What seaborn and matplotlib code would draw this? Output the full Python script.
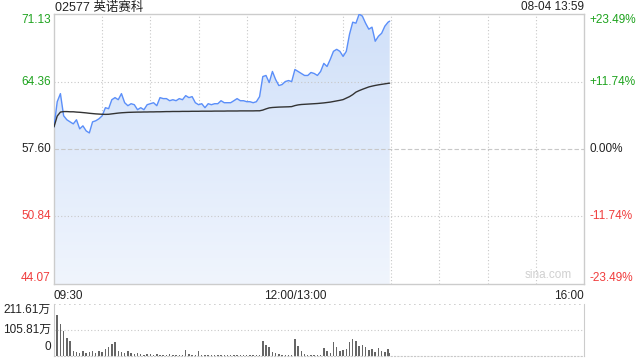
import numpy as np
import pandas as pd
import matplotlib
matplotlib.use("Agg")
import matplotlib.pyplot as plt
from matplotlib.colors import LinearSegmentedColormap
import seaborn as sns

# ---------------- data ----------------
title = "02577 英诺赛科"
stamp = "08-04 13:59"
minutes = [0, 2, 4, 6, 8, 10, 12, 14, 16, 18, 20, 22, 24, 26, 28, 30, 32, 34, 36, 38,
           40, 42, 44, 46, 48, 50, 52, 54, 56, 58, 60, 62, 64, 66, 68, 70, 72, 74, 76, 78,
           80, 82, 84, 86, 88, 90, 92, 94, 96, 98, 100, 102, 104, 106, 108, 110, 112, 114, 116, 118,
           120, 122, 124, 126, 128, 130, 132, 134, 136, 138, 140, 142, 144, 146, 148, 150, 152, 154, 156, 158,
           160, 162, 164, 166, 168, 170, 172, 174, 176, 178, 180, 182, 184, 186, 188, 190, 192, 194, 196, 198,
           200, 202, 204, 206, 208, 209]
price = [59.82, 62.34, 63.15, 60.93, 60.53, 60.32, 60.12, 60.53, 59.62, 59.92, 59.42, 59.21, 60.32, 60.43, 60.63, 60.93, 61.74, 61.64, 62.54, 62.75,
         62.54, 63.15, 62.24, 61.94, 62.14, 62.04, 61.54, 61.74, 61.54, 62.04, 62.14, 62.24, 61.94, 62.75, 62.65, 62.65, 62.44, 62.54, 62.44, 62.65,
         62.54, 62.95, 62.75, 62.85, 62.24, 62.04, 62.14, 61.74, 62.14, 62.04, 62.14, 62.14, 62.44, 62.24, 62.24, 62.24, 62.44, 62.65, 62.44, 62.44,
         62.34, 62.34, 62.24, 62.34, 62.85, 64.86, 64.97, 64.26, 65.37, 64.56, 63.96, 64.06, 64.36, 64.46, 64.36, 65.57, 65.37, 65.17, 64.97, 64.97,
         65.27, 65.17, 64.97, 65.37, 66.18, 65.87, 66.58, 67.39, 67.59, 67.39, 66.88, 67.39, 69.10, 70.31, 70.21, 71.12, 70.92, 70.21, 69.61, 69.81,
         68.40, 68.90, 69.20, 69.91, 70.31, 70.41]
avg_price = [59.82, 60.90, 61.30, 61.35, 61.35, 61.33, 61.33, 61.30, 61.28, 61.25, 61.22, 61.18, 61.15, 61.12, 61.10, 61.08, 61.07, 61.08, 61.12, 61.16,
             61.20, 61.23, 61.25, 61.27, 61.28, 61.29, 61.30, 61.30, 61.31, 61.31, 61.32, 61.32, 61.33, 61.33, 61.34, 61.35, 61.35, 61.36, 61.36, 61.36,
             61.37, 61.37, 61.37, 61.38, 61.38, 61.38, 61.39, 61.39, 61.39, 61.39, 61.40, 61.40, 61.40, 61.40, 61.41, 61.41, 61.41, 61.41, 61.42, 61.42,
             61.42, 61.42, 61.42, 61.43, 61.43, 61.50, 61.62, 61.72, 61.76, 61.78, 61.80, 61.81, 61.82, 61.83, 61.85, 61.95, 62.02, 62.06, 62.08, 62.10,
             62.12, 62.14, 62.16, 62.19, 62.22, 62.26, 62.30, 62.36, 62.42, 62.48, 62.55, 62.70, 62.85, 63.05, 63.30, 63.45, 63.58, 63.70, 63.82, 63.90,
             63.97, 64.03, 64.08, 64.13, 64.18, 64.20]
volume = [210, 165, 130, 100, 72, 62, 22, 18, 14, 20, 12, 16, 20, 14, 22, 18, 30, 38, 48, 55,
          22, 18, 14, 20, 12, 10, 14, 8, 6, 9, 7, 5, 8, 6, 4, 5, 7, 5, 4, 6,
          3, 25, 8, 5, 4, 22, 6, 5, 4, 3, 4, 3, 5, 3, 4, 3, 5, 3, 4, 3,
          5, 4, 6, 4, 5, 62, 45, 35, 15, 12, 8, 6, 5, 4, 6, 70, 40, 22, 10, 6,
          4, 5, 3, 6, 33, 20, 12, 55, 35, 20, 25, 30, 55, 70, 62, 40, 45, 35, 25, 30,
          18, 33, 22, 16, 30, 14]
price_ticks = [71.13, 64.36, 57.60, 50.84, 44.07]
pct_labels = ["+23.49%", "+11.74%", "0.00%", "-11.74%", "-23.49%"]
vol_ticks = [211.61, 105.81, 0]
vol_labels = ["211.61万", "105.81万", "0"]
time_labels = ["09:30", "12:00/13:00", "16:00"]
time_label_pos = [0, 150, 330]

# ---------------- style ----------------
sns.set_style("white")
plt.rcParams['font.family'] = ['Liberation Sans', 'Noto Sans CJK SC', 'DejaVu Sans']

GREEN = "#1ea31e"
RED = "#f03c3c"
GRID = "#c8c8c8"
FRAME = "#cccccc"
LINE = "#5b8ff9"

W, H = 640, 360
fig = plt.figure(figsize=(6.4, 3.6), dpi=100)

def box(l, t, r, b):
    return [l / W, 1 - b / H, (r - l) / W, (b - t) / H]

ax = fig.add_axes(box(54, 14, 584, 284))
axv = fig.add_axes(box(54, 304, 584, 356))

df = pd.DataFrame({"m": minutes, "price": price, "avg": avg_price})

ymin, ymax = price_ticks[-1], price_ticks[0]
ax.set_xlim(0, 330)
ax.set_ylim(ymin, ymax)

# gradient fill under the price curve
poly = ax.fill_between(minutes, price, ymin, color="none", lw=0)
grad = np.linspace(1, 0, 256).reshape(-1, 1)
cmap = LinearSegmentedColormap.from_list("g", ["#f0f5fd", "#d0e0f9"])
im = ax.imshow(grad, cmap=cmap, aspect="auto", extent=[0, 330, ymin, max(price)],
               origin="upper", zorder=1)
im.set_clip_path(poly.get_paths()[0], transform=ax.transData)

sns.lineplot(data=df, x="m", y="price", ax=ax, color=LINE, lw=1.0, zorder=3)
sns.lineplot(data=df, x="m", y="avg", ax=ax, color="#333333", lw=1.0, zorder=4)

# grid
for xv in range(30, 330, 30):
    ax.axvline(xv, color=GRID, lw=0.8, ls=(0, (1, 2)), zorder=0.5)
for yv in price_ticks[1:-1]:
    ls = (0, (4, 2)) if yv == 57.60 else (0, (1, 2))
    ax.axhline(yv, color=GRID, lw=0.8, ls=ls, zorder=2)

ax.set_xticks([]); ax.set_yticks([])
ax.set_xlabel(""); ax.set_ylabel("")
for s in ax.spines.values():
    s.set_color(FRAME); s.set_linewidth(1.0)

# price labels
colors = [GREEN, GREEN, "#222222", RED, RED]
vas = ["top", "center", "center", "center", "bottom"]
for v, lab_p, c, va in zip(price_ticks, pct_labels, colors, vas):
    fy = (v - ymin) / (ymax - ymin)
    ax.text(-0.006, fy, f"{v:.2f}", transform=ax.transAxes, ha="right", va=va,
            color=c, fontsize=8.5)
    ax.text(1.011, fy, lab_p, transform=ax.transAxes, ha="left", va=va,
            color=c, fontsize=8.5)

# time labels
for lab, pos in zip(time_labels, time_label_pos):
    ha = "left" if pos == 0 else ("right" if pos == 330 else "center")
    ax.text(pos, -0.022, lab, transform=ax.get_xaxis_transform(), ha=ha, va="top",
            fontsize=8.5, color="#222222")

# header
fig.text(55 / W, 1 - 7.5 / H, title, ha="left", va="center",
         fontsize=9, color="#222222")
fig.text(584 / W, 1 - 7.5 / H, stamp, ha="right", va="center",
         fontsize=8.5, color="#222222")
ax.text(0.977, 0.012, "sina.com", transform=ax.transAxes, ha="right", va="bottom",
        fontsize=8.5, color="#d0d0d0")

# volume
axv.bar(minutes, volume, width=0.9, color="#666666", lw=0, align="center")
axv.set_xlim(0, 330)
axv.set_ylim(0, vol_ticks[0])
axv.set_xticks([]); axv.set_yticks([])
axv.axhline(vol_ticks[1], color=GRID, lw=0.8, ls=(0, (1, 2)))
axv.axhline(vol_ticks[0], color=GRID, lw=1.2, ls=(0, (1, 2)))
axv.spines["top"].set_visible(False)
axv.spines["left"].set_color(FRAME)
axv.spines["right"].set_color(FRAME)
axv.spines["bottom"].set_color(GRID)
axv.spines["bottom"].set_linestyle((0, (1, 2)))
for v, lab in zip(vol_ticks, vol_labels):
    fy = v / vol_ticks[0]
    va = "bottom" if v == 0 else ("top" if v == vol_ticks[0] else "center")
    axv.text(-0.006, fy + (0.05 if v == 0 else 0), lab, transform=axv.transAxes,
             ha="right", va=va, fontsize=8.5, color="#222222")

fig.savefig("out.png", dpi=100)
